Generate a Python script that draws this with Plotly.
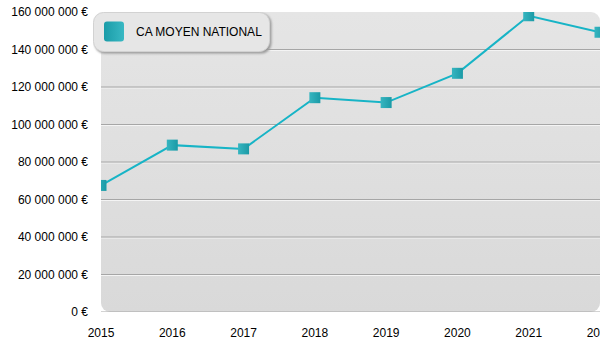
import base64
import plotly.graph_objects as go

# Chiffre d'affaires moyen national par année
series_name = "CA MOYEN NATIONAL"
years = [2015, 2016, 2017, 2018, 2019, 2020, 2021, 2022]
ca_moyen = [67_500_000, 89_000_000, 87_000_000, 114_300_000,
            111_700_000, 127_300_000, 158_000_000, 149_200_000]
y_ticks = [0, 20_000_000, 40_000_000, 60_000_000, 80_000_000,
           100_000_000, 120_000_000, 140_000_000, 160_000_000]
y_tick_labels = [f"{v:,}".replace(",", " ") + " €" for v in y_ticks]
grid_values = y_ticks[:-1]

W, H = 600, 350
M_L, M_R, M_T, M_B = 101, 0, 12, 38
PW, PH = W - M_L - M_R, H - M_T - M_B

LINE_COLOR = "#17b4c6"
FONT = "Liberation Sans, Arial, sans-serif"


def svg_uri(svg):
    return "data:image/svg+xml;base64," + base64.b64encode(svg.encode()).decode()


def px_x(px):
    return (px - M_L) / PW


def px_y(py):
    return (H - M_B - py) / PH


# rounded, softly shaded plot background
bg_svg = (
    f"<svg xmlns='http://www.w3.org/2000/svg' width='{PW}' height='{PH}' "
    f"viewBox='0 0 {PW} {PH}' preserveAspectRatio='none'>"
    "<defs><linearGradient id='g' x1='0' y1='0' x2='0' y2='1'>"
    "<stop offset='0' stop-color='#e5e5e5'/><stop offset='1' stop-color='#d9d9d9'/>"
    "</linearGradient></defs>"
    f"<rect x='0' y='0' width='{PW}' height='{PH}' rx='9' ry='9' fill='url(#g)'/>"
    "</svg>"
)

# legend box: rounded panel with a drop shadow and a gradient swatch
LG_X0, LG_Y0, LG_W, LG_H = 93, 12, 178, 41
legend_svg = (
    f"<svg xmlns='http://www.w3.org/2000/svg' width='{LG_W + 4}' height='{LG_H + 4}' "
    f"viewBox='0 0 {LG_W + 4} {LG_H + 4}'>"
    "<defs>"
    "<linearGradient id='s' x1='0' y1='0' x2='1' y2='0'>"
    "<stop offset='0' stop-color='#1a9ca8'/><stop offset='1' stop-color='#38b8c3'/>"
    "</linearGradient>"
    "<filter id='f' x='-10%' y='-10%' width='130%' height='150%'>"
    "<feGaussianBlur stdDeviation='1'/></filter>"
    "</defs>"
    f"<rect x='1.5' y='1.5' width='{LG_W - 1}' height='{LG_H - 1}' rx='10' ry='10' "
    "fill='#9a9a9a' filter='url(#f)'/>"
    f"<rect x='0.5' y='0.5' width='{LG_W - 2}' height='{LG_H - 2}' rx='10' ry='10' "
    "fill='#e6e6e6' stroke='#d2d2d2' stroke-width='1'/>"
    "<rect x='11' y='9.5' width='20' height='20' rx='3' ry='3' fill='url(#s)'/>"
    "</svg>"
)

fig = go.Figure()

fig.add_trace(go.Scatter(
    x=years, y=ca_moyen, name=series_name,
    mode="lines+markers",
    line=dict(color=LINE_COLOR, width=2),
    marker=dict(symbol="square", size=11, color="#36b5c0",
                gradient=dict(type="horizontal", color="#1b9aa6"),
                line=dict(width=0)),
    showlegend=False,
))

shapes = []
for v in grid_values:
    # white highlight just under each grid line
    shapes.append(dict(type="line", xref="paper", x0=0, x1=1, yref="y",
                       y0=v - 160_000_000 / PH, y1=v - 160_000_000 / PH,
                       line=dict(color="#f4f4f4", width=1), layer="below"))
    shapes.append(dict(type="line", xref="paper", x0=0, x1=1, yref="y",
                       y0=v, y1=v, line=dict(color="#a6a6a6", width=1),
                       layer="below"))

fig.update_layout(
    template="none",
    width=W, height=H,
    margin=dict(l=M_L, r=M_R, t=M_T, b=M_B, pad=0),
    paper_bgcolor="white", plot_bgcolor="rgba(0,0,0,0)",
    font=dict(family=FONT, size=12, color="#000000"),
    showlegend=False,
    shapes=shapes,
    images=[
        dict(source=svg_uri(bg_svg), xref="paper", yref="paper",
             x=0, y=1, sizex=1, sizey=1, xanchor="left", yanchor="top",
             sizing="stretch", layer="below"),
        dict(source=svg_uri(legend_svg), xref="paper", yref="paper",
             x=px_x(LG_X0), y=px_y(LG_Y0),
             sizex=(LG_W + 4) / PW, sizey=(LG_H + 4) / PH,
             xanchor="left", yanchor="top", sizing="stretch", layer="above"),
    ],
    annotations=[
        dict(text=series_name, xref="paper", yref="paper",
             x=px_x(134), y=px_y(32), xanchor="left", yanchor="middle",
             showarrow=False, font=dict(family=FONT, size=12, color="#000000")),
    ],
    xaxis=dict(
        range=[years[0], years[-1]], tickmode="array", tickvals=years,
        ticktext=[str(y) for y in years], showgrid=False, zeroline=False,
        showline=False, ticks="", ticklabelstandoff=12,
        ticklabeloverflow="allow", automargin=False, fixedrange=True,
    ),
    yaxis=dict(
        range=[0, 160_000_000], tickmode="array", tickvals=y_ticks,
        ticktext=y_tick_labels, showgrid=False, zeroline=False,
        showline=False, ticks="", ticklabelstandoff=12, automargin=False,
        fixedrange=True,
    ),
)

fig.write_html("out.html")
